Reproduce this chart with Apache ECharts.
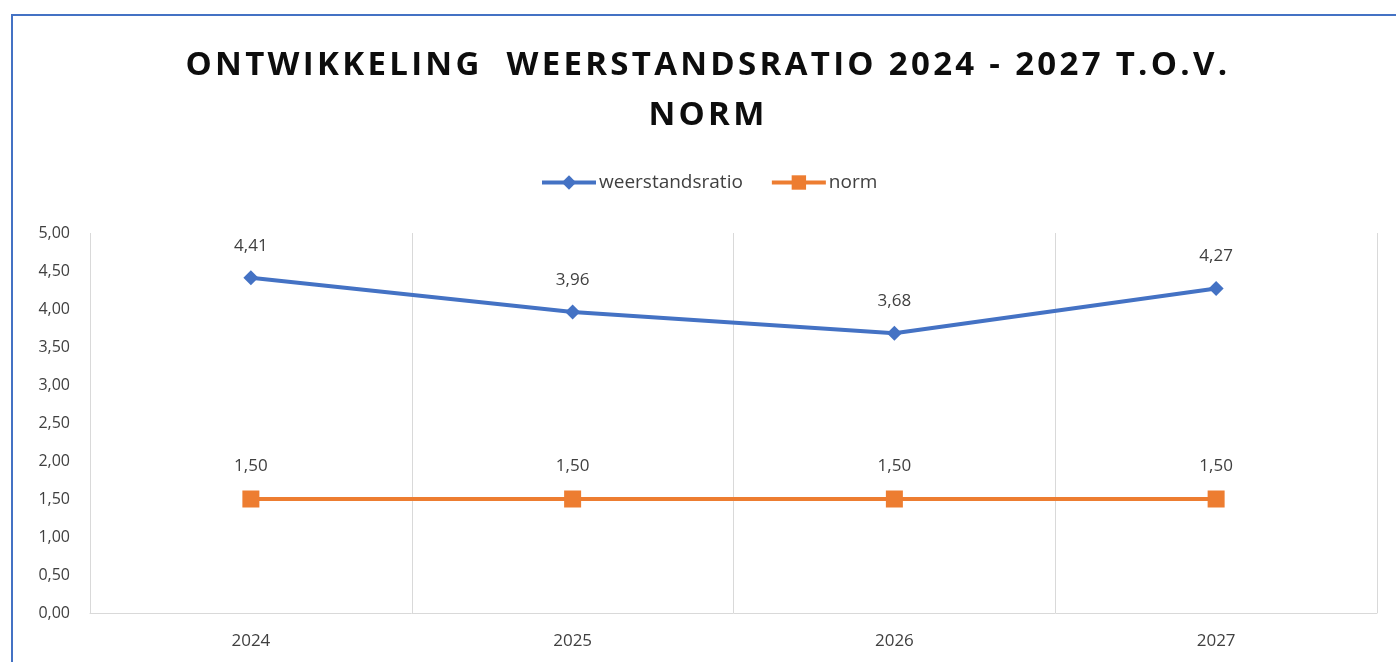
<!DOCTYPE html>
<html>
<head>
<meta charset="utf-8">
<script src="https://cdn.jsdelivr.net/npm/echarts@6/dist/echarts.min.js"></script>
<style>
  html, body { margin: 0; padding: 0; background: #fff; overflow: hidden; }
  #frame {
    position: absolute; left: 11px; top: 14px; width: 1500px; height: 800px;
    border-left: 2px solid #4472C4; border-top: 2px solid #4472C4;
  }
  #chart { position: absolute; left: 0; top: 0; width: 1396px; height: 662px; }
  #title {
    position: absolute; left: 0; top: 38px; width: 1416px; text-align: center;
    font-family: 'Open Sans', sans-serif; font-weight: bold; font-size: 33px;
    line-height: 50px; letter-spacing: 3.3px; color: #0d0d0d; white-space: pre;
    z-index: 2;
  }
</style>
</head>
<body>
<div id="frame"></div>
<div id="chart"></div>
<div id="title">ONTWIKKELING  WEERSTANDSRATIO 2024 - 2027 T.O.V.
NORM</div>
<script>
// jaren en waarden
const years = ['2024', '2025', '2026', '2027'];
const weerstandsratio = [4.41, 3.96, 3.68, 4.27];
const norm = [1.5, 1.5, 1.5, 1.5];

const fmt = (v) => Number(v).toFixed(2).replace('.', ',');

const myChart = echarts.init(document.getElementById('chart'));
const option = {
  backgroundColor: 'transparent',
  legend: {
    top: 168,
    left: 535,
    itemWidth: 54,
    itemHeight: 18,
    itemGap: 27,
    textStyle: { fontFamily: 'Open Sans', fontSize: 19, color: '#404040', padding: [0, 0, 0, -2] },
    data: [
      { name: 'weerstandsratio', lineStyle: { width: 4 } },
      { name: 'norm', lineStyle: { width: 4 } },
    ],
  },
  grid: { left: 90, right: 19, top: 233, bottom: 49 },
  xAxis: {
    type: 'category',
    data: years,
    boundaryGap: true,
    axisTick: { show: false },
    axisLine: { lineStyle: { color: '#d9d9d9', width: 1 } },
    splitLine: { show: true, lineStyle: { color: '#d9d9d9', width: 1 } },
    axisLabel: {
      margin: 20,
      fontFamily: 'Open Sans',
      fontSize: 17,
      color: '#404040',
    },
  },
  yAxis: {
    type: 'value',
    min: 0,
    max: 5,
    interval: 0.5,
    axisLine: { show: false },
    axisTick: { show: false },
    splitLine: { show: false },
    axisLabel: {
      margin: 20,
      fontFamily: 'Open Sans',
      fontSize: 16,
      color: '#404040',
      formatter: fmt,
    },
  },
  series: [
    {
      name: 'weerstandsratio',
      type: 'line',
      data: weerstandsratio,
      symbol: 'diamond',
      symbolSize: 15,
      lineStyle: { color: '#4472C4', width: 4 },
      itemStyle: { color: '#4472C4' },
      label: {
        show: true,
        position: 'top',
        distance: 16,
        fontFamily: 'Open Sans',
        fontSize: 17,
        color: '#404040',
        formatter: (p) => fmt(p.value),
      },
    },
    {
      name: 'norm',
      type: 'line',
      data: norm,
      symbol: 'rect',
      symbolSize: 17,
      lineStyle: { color: '#ED7D31', width: 4 },
      itemStyle: { color: '#ED7D31', borderRadius: 2 },
      label: {
        show: true,
        position: 'top',
        distance: 16,
        fontFamily: 'Open Sans',
        fontSize: 17,
        color: '#404040',
        formatter: (p) => fmt(p.value),
      },
    },
  ],
};
myChart.setOption(option);
</script>
</body>
</html>
